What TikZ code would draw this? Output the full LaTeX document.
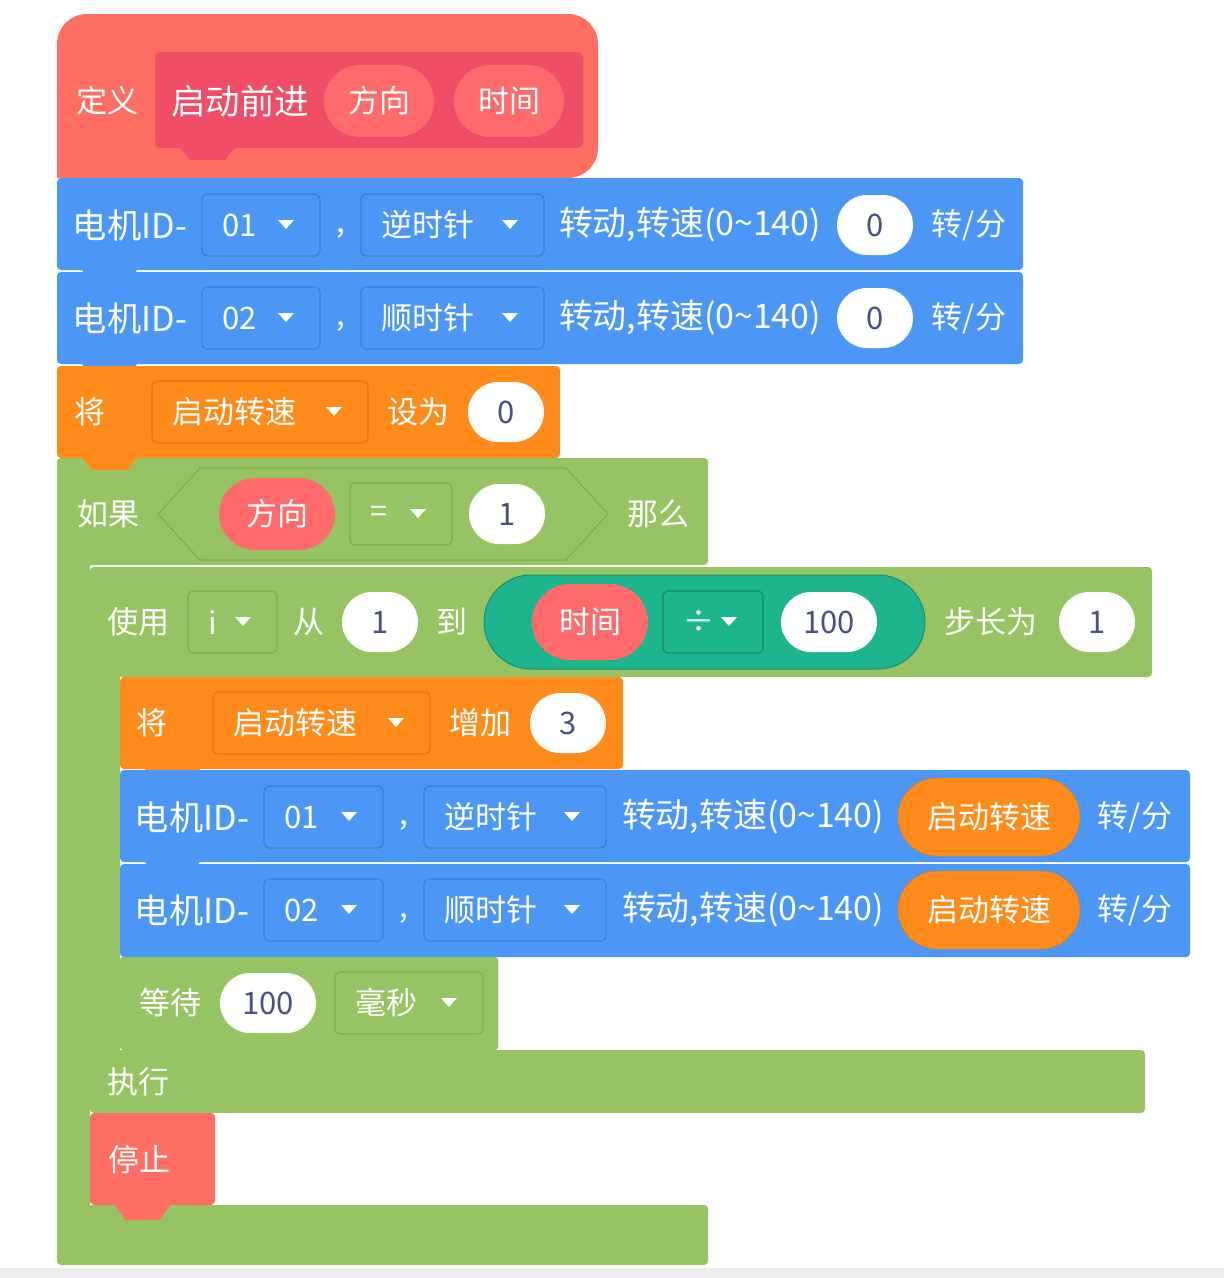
\documentclass[tikz,border=0pt]{standalone}
\usepackage{fontspec}
\setmainfont{Noto Sans CJK SC}
\usetikzlibrary{shapes.misc}
\definecolor{rdA}{HTML}{FF6E63}
\definecolor{rdB}{HTML}{F04D66}
\definecolor{rdP}{HTML}{FF6B6B}
\definecolor{bl}{HTML}{4C97F5}
\definecolor{blD}{HTML}{3A7FD6}
\definecolor{og}{HTML}{FF8C1A}
\definecolor{ogD}{HTML}{E07610}
\definecolor{gr}{HTML}{96C463}
\definecolor{grD}{HTML}{7FAE4E}
\definecolor{tl}{HTML}{1DB58E}
\definecolor{txD}{HTML}{4A5080}
\tikzset{
 tx/.style={text=white,font=\fontsize{31}{36}\selectfont,inner sep=0pt},
 dtx/.style={text=txD,font=\fontsize{31}{36}\selectfont,inner sep=0pt},
 wov/.style={fill=white,rounded rectangle,minimum height=60pt,dtx},
}
\newcommand{\blk}[5]{%
 \fill[#5,rounded corners=4pt] (#1,#3) rectangle (#2,#4);
 \fill[#5] ({#1+25},#4) -- ({#1+35},{#4+12}) -- ({#1+70},{#4+12}) -- ({#1+80},#4) -- cycle;}
\newcommand{\ddbox}[6]{%
 \draw[fill=#5,draw=#6,line width=1.2pt,rounded corners=5pt] (#1,{#3-31}) rectangle (#2,{#3+31});
 \node[tx,anchor=west] at ({#1+20},#3) {#4};
 \fill[white] ({#2-42},{#3-5}) -- ({#2-26},{#3-5}) -- ({#2-34},{#3+4}) -- cycle;}
\begin{document}
\begin{tikzpicture}[x=1pt,y=-1pt]
\useasboundingbox (0,0) rectangle (1224,1278);
\fill[white] (0,0) rectangle (1224,1278);
\fill[gray!15] (0,1268) rectangle (1224,1278);
\fill[rdA,rounded corners=30pt] (57,178) -- (57,14) -- (598,14) -- (598,178) [sharp corners]-- cycle;
\fill[rdA] (82,178) -- (92,190) -- (127,190) -- (137,178) -- cycle;
\fill[rdB,rounded corners=5pt] (155,52) rectangle (583,148);
\fill[rdB] (180,148) -- (190,160) -- (225,160) -- (235,148) -- cycle;
\node[tx] (def) at (107,101) {定义};
\node[tx] at (240,101) {\resizebox{138pt}{!}{启动前进}};
\node[tx,fill=rdP,rounded rectangle,minimum width=110pt,minimum height=72pt] at (379,101) {方向};
\node[tx,fill=rdP,rounded rectangle,minimum width=110pt,minimum height=72pt] at (509,101) {时间};
\fill[gr,rounded corners=4pt] (57,458) rectangle (708,565);
\fill[gr] (57,560) rectangle (90,1210);
\fill[gr,rounded corners=4pt] (57,1205) rectangle (708,1265);
\draw[grD,fill=gr,line width=1.2pt] (158,514) -- (200,468) -- (566,468) -- (608,514) -- (566,560) -- (200,560) -- cycle;
\node[tx] at (108,514) {如果};
\node[tx,fill=rdP,rounded rectangle,minimum width=116pt,minimum height=72pt] at (277,514) {方向};
\ddbox{350}{452}{514}{=}{gr}{grD}
\node[wov,minimum width=76pt] at (507,514) {1};
\node[tx] at (658,514) {那么};
\fill[gr,rounded corners=4pt] (90,567) rectangle (1152,677);
\fill[gr] (90,670) rectangle (120,1055);
\fill[gr,rounded corners=4pt] (90,1050) rectangle (1145,1113);
\node[tx] at (138,622) {使用};
\ddbox{188}{277}{622}{i}{gr}{grD}
\node[tx] at (309,622) {从};
\node[wov,minimum width=76pt] at (380,622) {1};
\node[tx] at (452,622) {到};
\node[fill=tl,draw=tl!80!black,line width=1pt,rounded rectangle,minimum width=441pt,minimum height=94pt,inner sep=0pt] (pill) at (704.5,622) {};
\node[tx,fill=rdP,rounded rectangle,minimum width=116pt,minimum height=76pt] at (590,622) {时间};
\ddbox{663}{763}{622}{÷}{tl}{tl!75!black}
\node[wov,minimum width=96pt] at (829,622) {100};
\node[tx] at (991,622) {步长为};
\node[wov,minimum width=76pt] at (1097,622) {1};
\node[tx] at (138,1082) {执行};
\blk{57}{1023}{178}{270}{bl}
\blk{57}{1023}{272}{364}{bl}
\foreach \yc/\n/\d in {225/01/逆时针,318/02/顺时针}{
 \node[tx] at (130,\yc) {\resizebox{114pt}{!}{电机ID-}};
 \ddbox{202}{320}{\yc}{\n}{bl}{blD}
 \node[tx] at (341,{\yc+8}) {,};
 \ddbox{361}{544}{\yc}{\d}{bl}{blD}
 \node[tx] at (690,\yc) {\resizebox{262pt}{!}{转动,转速(0\textasciitilde140)}};
 \node[wov,minimum width=76pt] at (875,\yc) {0};
 \node[tx] at (969,\yc) {转/分};
}
\blk{57}{560}{366}{458}{og}
\node[tx] at (90,412) {将};
\ddbox{152}{368}{412}{启动转速}{og}{ogD}
\node[tx] at (418,412) {设为};
\node[wov,minimum width=76pt] at (506,412) {0};
\blk{120}{623}{677}{769}{og}
\node[tx] at (152,723) {将};
\ddbox{213}{430}{723}{启动转速}{og}{ogD}
\node[tx] at (480,723) {增加};
\node[wov,minimum width=76pt] at (568,723) {3};
\blk{120}{1190}{770}{862}{bl}
\blk{120}{1190}{864}{957}{bl}
\foreach \yc/\n/\d in {817/01/逆时针,910/02/顺时针}{
 \node[tx] at (192,\yc) {\resizebox{114pt}{!}{电机ID-}};
 \ddbox{264}{383}{\yc}{\n}{bl}{blD}
 \node[tx] at (404,{\yc+8}) {,};
 \ddbox{424}{606}{\yc}{\d}{bl}{blD}
 \node[tx] at (753,\yc) {\resizebox{262pt}{!}{转动,转速(0\textasciitilde140)}};
 \node[tx,fill=og,draw=ogD,rounded rectangle,minimum width=182pt,minimum height=78pt] at (989,\yc) {启动转速};
 \node[tx] at (1135,\yc) {转/分};
}
\draw[grD,fill=gr,rounded corners=4pt] (120,957) rectangle (498,1050);
\fill[gr] (145,1050) -- (155,1062) -- (190,1062) -- (200,1050) -- cycle;
\node[tx] at (170,1003) {等待};
\node[wov,minimum width=96pt] at (268,1003) {100};
\ddbox{335}{483}{1003}{毫秒}{gr}{grD}
\fill[rdA,rounded corners=4pt] (90,1113) rectangle (215,1205);
\fill[rdA] (115,1205) -- (125,1220) -- (160,1220) -- (170,1205) -- cycle;
\node[tx] at (139,1160) {停止};
\end{tikzpicture}
\end{document}
